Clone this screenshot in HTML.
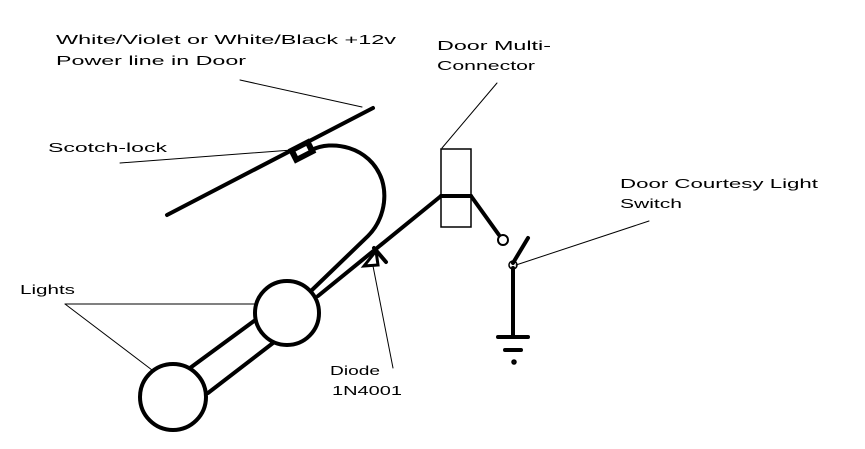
<!DOCTYPE html>
<html><head><style>body{margin:0;background:#fff}svg{display:block}text{font-family:"Liberation Sans",sans-serif;font-size:13px;fill:#000}</style></head>
<body>
<svg width="865" height="449" viewBox="0 0 865 449" xmlns="http://www.w3.org/2000/svg">
<g fill="none" stroke="#000" stroke-linecap="round">
<line x1="167" y1="215" x2="373" y2="108" stroke-width="4"/>
<g transform="translate(302,151) rotate(-27)"><rect x="-12" y="-8" width="24" height="16" fill="#000" stroke="none"/><rect x="-6" y="-2.5" width="12" height="5" fill="#fff" stroke="none"/></g>
<path d="M312,150 C330,140 370,145 382,180 C388,200 382,222 368,236 L312,290" stroke-width="4"/>
<line x1="318" y1="296" x2="441" y2="196" stroke-width="4"/>
<polygon points="364,266 376,251 378,265" fill="#fff" stroke-width="3"/>
<line x1="374" y1="248" x2="386" y2="262" stroke-width="4"/>
<circle cx="173" cy="397" r="33" stroke-width="4"/>
<circle cx="287" cy="313" r="32" stroke-width="4"/>
<line x1="190" y1="368" x2="254" y2="321" stroke-width="4"/>
<line x1="208" y1="393" x2="273" y2="343" stroke-width="4"/>
<rect x="441" y="149" width="30" height="78" stroke-width="1.5"/>
<line x1="441" y1="196" x2="471" y2="196" stroke-width="4"/>
<line x1="471" y1="196" x2="499" y2="235" stroke-width="4"/>
<circle cx="503" cy="240" r="5" stroke-width="2"/>
<circle cx="513" cy="265" r="4" stroke-width="1.5"/>
<line x1="513" y1="263" x2="528" y2="238" stroke-width="4"/>
<line x1="513" y1="268" x2="513" y2="337" stroke-width="4"/>
<line x1="498" y1="337" x2="528" y2="337" stroke-width="4"/>
<line x1="505" y1="350" x2="521" y2="350" stroke-width="4"/>
<circle cx="514" cy="362" r="1.5" stroke-width="2.5"/>
<g stroke-width="1">
<line x1="240" y1="80" x2="362" y2="107"/>
<line x1="120" y1="163" x2="292" y2="150"/>
<line x1="497" y1="83" x2="442" y2="148"/>
<line x1="649" y1="221" x2="516" y2="265"/>
<line x1="65" y1="304" x2="255" y2="304"/>
<line x1="65" y1="304" x2="152" y2="370"/>
<line x1="393" y1="368" x2="373" y2="266"/>
</g>
</g>
<text x="56" y="44" textLength="340" lengthAdjust="spacingAndGlyphs">White/Violet or White/Black +12v</text>
<text x="56" y="65" textLength="190" lengthAdjust="spacingAndGlyphs">Power line in Door</text>
<text x="48" y="152" textLength="119" lengthAdjust="spacingAndGlyphs">Scotch-lock</text>
<text x="437" y="50" textLength="114" lengthAdjust="spacingAndGlyphs">Door Multi-</text>
<text x="437" y="70" textLength="98" lengthAdjust="spacingAndGlyphs">Connector</text>
<text x="620" y="188" textLength="198" lengthAdjust="spacingAndGlyphs">Door Courtesy Light</text>
<text x="620" y="208" textLength="62" lengthAdjust="spacingAndGlyphs">Switch</text>
<text x="20" y="294" textLength="55" lengthAdjust="spacingAndGlyphs">Lights</text>
<text x="330" y="375" textLength="50" lengthAdjust="spacingAndGlyphs">Diode</text>
<text x="332" y="395" textLength="70" lengthAdjust="spacingAndGlyphs">1N4001</text>
</svg>
</body></html>
